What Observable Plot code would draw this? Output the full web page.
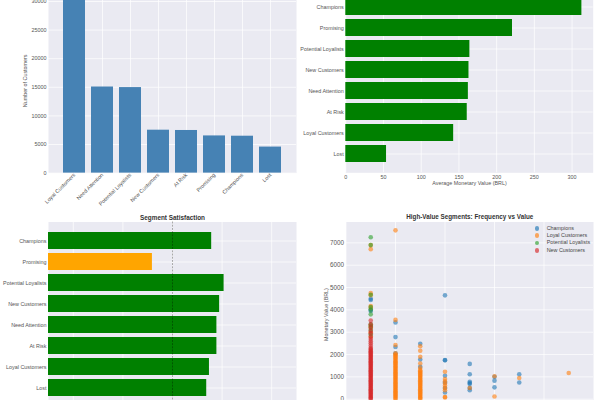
<!DOCTYPE html>
<html>
<head>
<meta charset="utf-8">
<script src="https://cdn.jsdelivr.net/npm/d3@7"></script>
<script src="https://cdn.jsdelivr.net/npm/@observablehq/plot@0.6"></script>
<style>
html,body{margin:0;padding:0;background:#fff;overflow:hidden}
#page{position:relative;width:600px;height:400px;overflow:hidden;font-family:"Liberation Sans",Arial,sans-serif}
.panel{position:absolute}
.panel svg{display:block;overflow:hidden;background:transparent}
#legend{position:absolute;left:534px;top:224.6px;font-size:5.4px;color:#444;line-height:7.4px}
#legend div{display:flex;align-items:center;height:7.4px;white-space:nowrap}
#legend span{display:inline-block;width:4.6px;height:4.6px;border-radius:50%;opacity:.65;margin-right:7.4px;margin-left:.7px}
</style>
</head>
<body>
<div id="page"></div>
<script>
// Panel 1: customers per segment
const countSegments = ["Loyal Customers","Need Attention","Potential Loyalists","New Customers","At Risk","Promising","Champions","Lost"];
const countValues = [30700,15050,14950,7500,7450,6500,6450,4550];
const countTicks = [0,5000,10000,15000,20000,25000,30000];

// Panel 2: average monetary value
const segments = ["Champions","Promising","Potential Loyalists","New Customers","Need Attention","At Risk","Loyal Customers","Lost"];
const monetaryValues = [313,221,164.5,163.3,162.5,161,143,54];
const monetaryTicks = [0,50,100,150,200,250,300];

// Panel 3: satisfaction
const satisfactionValues = [4.158,3.919,4.208,4.19,4.179,4.179,4.149,4.138];
const satisfactionTicks = [3.6,3.8,4.0,4.2,4.4];
const satisfactionTarget = 4.0;

// Panel 4: frequency vs value, [frequency, monetary]
const champions = [[1,4500],[1,4440],[1,4020],[1,3950],[2,3440],[2,2780],[2,2340],[2,2050],[3,2480],[3,1780],[3,1450],[4,4650],[4,1750],[4,1745],[4,1050],[4,750],[4,500],[4,300],[5,1580],[5,1120],[5,780],[5,720],[5,680],[5,500],[5,400],[6,1000],[6,830],[6,530],[7,1120],[7,750]];
const loyal = [[1,6720],[1,6900],[1,4750],[1,4660],[1,4170],[1,4100],[1,3300],[1,3200],[1,3000],[1,2800],[2,7560],[2,3550],[2,2430],[2,2060],[2,2000],[2,1960],[2,1910],[2,1860],[2,1810],[2,1760],[2,1700],[2,1660],[2,1610],[2,1560],[2,1500],[2,1460],[2,1410],[2,1360],[2,1310],[2,1260],[2,1210],[2,1160],[2,1110],[2,1060],[2,1010],[2,960],[2,910],[2,860],[2,810],[2,760],[2,710],[2,660],[2,610],[2,560],[2,510],[2,460],[2,410],[2,360],[2,310],[2,260],[2,210],[2,160],[2,110],[2,60],[2,10],[3,2370],[3,2170],[3,1900],[3,1600],[3,1400],[3,1300],[3,1250],[3,1200],[3,1150],[3,1100],[3,1050],[3,1000],[3,950],[3,900],[3,850],[3,800],[3,750],[3,700],[3,650],[3,600],[3,550],[3,500],[3,450],[3,400],[3,350],[3,300],[3,250],[3,200],[3,150],[3,100],[3,60],[3,20],[4,1230],[4,900],[4,800],[4,700],[4,600],[4,500],[4,400],[4,100],[4,80],[5,500],[6,1030],[6,120],[7,950],[9,1170]];
const potential = [[1,7250],[1,6900],[1,4680],[1,4130],[1,4000],[1,3800],[1,3350],[1,3250],[1,3100],[1,2900]];
const newCustomers = [[1,3520],[1,3350],[1,3200],[1,3050],[1,2950],[1,2800],[1,2700],[1,2600],[1,2500],[1,2400],[1,2300],[1,2250],[1,2200],[1,2150],[1,2100],[1,2050],[1,2000],[1,1950],[1,1900],[1,1850],[1,1800],[1,1750],[1,1700],[1,1650],[1,1600],[1,1550],[1,1500],[1,1450],[1,1400],[1,1350],[1,1300],[1,1250],[1,1200],[1,1150],[1,1100],[1,1050],[1,1000],[1,950],[1,900],[1,850],[1,800],[1,750],[1,700],[1,650],[1,600],[1,550],[1,500],[1,450],[1,400],[1,350],[1,300],[1,250],[1,200],[1,150],[1,100],[1,60],[1,20]];
const scatterTicks = [0,1000,2000,3000,4000,5000,6000,7000];
const freqTicks = [0,2,4,6,8];
const scatterSeries = [
  {name:"Champions", color:"#1f77b4", points:champions},
  {name:"Loyal Customers", color:"#ff7f0e", points:loyal},
  {name:"Potential Loyalists", color:"#2ca02c", points:potential},
  {name:"New Customers", color:"#d62728", points:newCustomers}
];

const BG = "#eaeaf2", GRID = "#ffffff", INK = "#555555", FS = 5.4;
const base = {style:{fontFamily:'"Liberation Sans",Arial,sans-serif',background:"transparent",overflow:"hidden"}};
const gridOpts = {stroke:GRID, strokeOpacity:1, strokeWidth:.7};
const axisOpts = {tickSize:0, tickPadding:2, fontSize:FS, color:INK};
const plain = d => String(d);
const page = document.getElementById("page");
function add(plot,left,top){const d=document.createElement("div");d.className="panel";d.style.left=left+"px";d.style.top=top+"px";d.appendChild(plot);page.appendChild(d);}

// Panel 1
add(Plot.plot({...base,width:300,height:212,marginLeft:48,marginRight:4,marginTop:-12,marginBottom:39.4,
  x:{domain:countSegments,paddingInner:.2,paddingOuter:.39},
  y:{domain:[0,32270]},
  marks:[
    Plot.frame({fill:BG}),
    Plot.gridX(countSegments,gridOpts),
    Plot.gridY(countTicks,gridOpts),
    Plot.barY(countSegments.map((s,i)=>({s,v:countValues[i]})),{x:"s",y:"v",fill:"#4682b4"}),
    Plot.axisX({...axisOpts,label:null,tickRotate:-45,tickPadding:1}),
    Plot.axisY(countTicks,{...axisOpts,tickFormat:plain,label:"Number of Customers",labelAnchor:"center",labelArrow:"none",labelOffset:25})
  ]}),0,0);

// Panel 2
add(Plot.plot({...base,width:300,height:200,marginLeft:45.3,marginRight:7.3,marginTop:-12,marginBottom:27.7,
  x:{domain:[0,328]},
  y:{domain:segments,paddingInner:.2,paddingOuter:.365},
  marks:[
    Plot.frame({fill:BG}),
    Plot.gridX(monetaryTicks,gridOpts),
    Plot.gridY(segments,gridOpts),
    Plot.barX(segments.map((s,i)=>({s,v:monetaryValues[i]})),{y:"s",x:"v",fill:"green"}),
    Plot.axisY({...axisOpts,label:null}),
    Plot.axisX(monetaryTicks,{...axisOpts,tickFormat:plain,label:"Average Monetary Value (BRL)",labelAnchor:"center",labelArrow:"none",labelOffset:12})
  ]}),300,0);

// Panel 3
add(Plot.plot({...base,width:300,height:200,marginLeft:48,marginRight:4,marginTop:21.5,marginBottom:-6.6,
  x:{domain:[3.5,4.5],axis:null},
  y:{domain:segments,paddingInner:.2,paddingOuter:.365},
  marks:[
    Plot.frame({fill:BG}),
    Plot.gridX(satisfactionTicks,gridOpts),
    Plot.gridY(segments,gridOpts),
    Plot.barX(segments.map((s,i)=>({s,v:satisfactionValues[i]})),{y:"s",x1:()=>3.5,x2:"v",fill:d=>d.v<satisfactionTarget?"orange":"green"}),
    Plot.ruleX([satisfactionTarget],{stroke:"#000",strokeOpacity:.55,strokeWidth:.6,strokeDasharray:"2,1.2"}),
    Plot.axisY({...axisOpts,label:null}),
    Plot.text(["Segment Satisfaction"],{text:d=>d,frameAnchor:"top",dy:-7,fontSize:6.4,fontWeight:"bold",fill:"#333"})
  ]}),0,200);

// Panel 4
add(Plot.plot({...base,width:300,height:200,marginLeft:45.5,marginRight:7,marginTop:21.5,marginBottom:-6.6,
  x:{domain:[0,10],axis:null},
  y:{domain:[-354,7935]},
  marks:[
    Plot.frame({fill:BG}),
    Plot.gridX(freqTicks,gridOpts),
    Plot.gridY(scatterTicks,gridOpts),
    ...scatterSeries.map(s=>Plot.dot(s.points,{x:d=>d[0],y:d=>d[1],r:2.3,fill:s.color,fillOpacity:.6,stroke:null})),
    Plot.axisY(scatterTicks,{...axisOpts,fontSize:6.3,tickFormat:plain,label:null}),
    Plot.axisY(scatterTicks,{...axisOpts,tickFormat:()=>"",label:"Monetary Value (BRL)",labelAnchor:"center",labelArrow:"none",labelOffset:22}),
    Plot.text(["High-Value Segments: Frequency vs Value"],{text:d=>d,frameAnchor:"top",dy:-7,fontSize:6.3,fontWeight:"bold",fill:"#333"})
  ]}),300,200);

// Legend
const legend=document.createElement("div");legend.id="legend";
scatterSeries.forEach(s=>{const r=document.createElement("div");const m=document.createElement("span");m.style.background=s.color;r.appendChild(m);r.appendChild(document.createTextNode(s.name));legend.appendChild(r);});
page.appendChild(legend);
</script>
</body>
</html>
